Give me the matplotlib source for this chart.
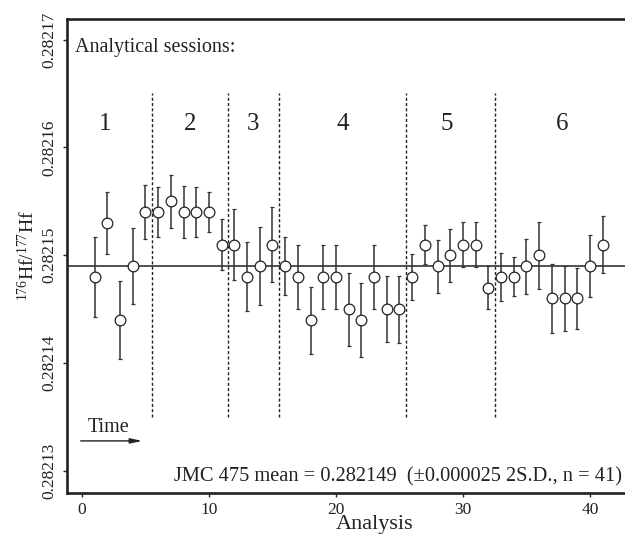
import numpy as np
import matplotlib
matplotlib.use("Agg")
import matplotlib.pyplot as plt
from matplotlib.ticker import FixedLocator

plt.rcParams['font.family'] = ['Liberation Serif', 'DejaVu Serif']
plt.rcParams['mathtext.fontset'] = 'custom'
plt.rcParams['mathtext.rm'] = 'Liberation Serif'
plt.rcParams['mathtext.it'] = 'Liberation Serif:italic'
plt.rcParams['mathtext.default'] = 'rm'

# ---- data ----
analysis = list(range(1, 42))
hf_ratio = [0.282148, 0.282153, 0.282144, 0.282149, 0.282154, 0.282154, 0.282155,
            0.282154, 0.282154, 0.282154, 0.282151, 0.282151, 0.282148, 0.282149,
            0.282151, 0.282149, 0.282148, 0.282144, 0.282148, 0.282148, 0.282145,
            0.282144, 0.282148, 0.282145, 0.282145, 0.282148, 0.282151, 0.282149,
            0.282150, 0.282151, 0.282151, 0.282147, 0.282148, 0.282148, 0.282149,
            0.282150, 0.282146, 0.282146, 0.282146, 0.282149, 0.282151]
err_ppm = [3.7, 2.9, 3.6, 3.5, 2.5, 2.3, 2.45, 2.4, 2.3, 1.85, 2.4, 3.3, 3.2, 3.6,
           3.5, 2.7, 2.95, 3.1, 3.0, 3.0, 3.4, 3.4, 3.0, 3.05, 3.1, 2.1, 1.8, 2.45,
           2.45, 2.1, 2.1, 2.0, 2.25, 1.8, 2.55, 3.1, 3.2, 3.05, 2.8, 2.9, 2.6]
mean_value = 0.282149
session_bounds = [5.5, 11.5, 15.5, 25.5, 32.5]
session_labels = ['1', '2', '3', '4', '5', '6']
session_label_x = [1.8, 8.5, 13.5, 20.5, 28.7, 37.8]
yticks = [0.28213, 0.28214, 0.28215, 0.28216, 0.28217]
ytick_labels = ['0.28213', '0.28214', '0.28215', '0.28216', '0.28217']
xticks = [0, 10, 20, 30, 40]

err = np.array(err_ppm) * 1e-6

fig = plt.figure(figsize=(6.25, 5.4), dpi=100)
ax = fig.add_axes([0.1067, 0.0876, 0.8933, 0.8772])

dark = '#222222'
ax.axhline(mean_value, color=dark, lw=1.1, zorder=1)
ax.vlines(session_bounds, 0.282135, 0.282165, colors=dark, lw=1.0,
          linestyles=(0, (2.2, 1.6)), zorder=1)
ax.errorbar(analysis, hf_ratio, yerr=err, fmt='o', ms=7.7, mfc='white',
            mec=dark, mew=0.9, ecolor='#333333', elinewidth=1.1, capsize=1.3,
            capthick=1.1, zorder=3)

for lbl, xx in zip(session_labels, session_label_x):
    ax.text(xx, 0.2821616, lbl, fontsize=18, ha='center', va='baseline', color=dark)

ax.text(-0.55, 0.2821688, 'Analytical sessions:', fontsize=14.5, ha='left',
        va='baseline', color=dark)
ax.text(0.45, 0.2821336, 'Time', fontsize=14.5, ha='left', va='baseline', color=dark)
ax.annotate('', xy=(4.75, 0.2821328), xytext=(-0.1, 0.2821328),
            arrowprops=dict(arrowstyle='-|>,head_length=0.7,head_width=0.15',
                            lw=1.0, color=dark, shrinkA=0, shrinkB=0))
ax.text(42.5, 0.282129, 'JMC 475 mean = 0.282149  (\u00b10.000025 2S.D., n = 41)',
        fontsize=14.7, ha='right', va='baseline', color=dark)

ax.set_xlim(-1.2, 42.76)
ax.set_ylim(0.2821280, 0.2821719)
ax.xaxis.set_major_locator(FixedLocator(xticks))
ax.yaxis.set_major_locator(FixedLocator(yticks))
ax.set_yticklabels(ytick_labels, rotation=90, va='center')
ax.tick_params(axis='both', direction='out', length=3, width=1.0, labelsize=12.5,
               colors=dark)
ax.tick_params(axis='x', pad=3.5)
ax.tick_params(axis='y', pad=3.5)

for s in ['left', 'bottom', 'top']:
    ax.spines[s].set_linewidth(1.9)
    ax.spines[s].set_color(dark)
ax.spines['right'].set_visible(False)

ax.set_xlabel('Analysis', fontsize=16, color=dark)
ax.xaxis.set_label_coords(0.552, -0.048)
ax.set_ylabel(r'$^{176}$Hf/$^{177}$Hf', fontsize=14, color=dark)
ax.yaxis.set_label_coords(-0.052, 0.5)

fig.savefig('out.png', dpi=100)
